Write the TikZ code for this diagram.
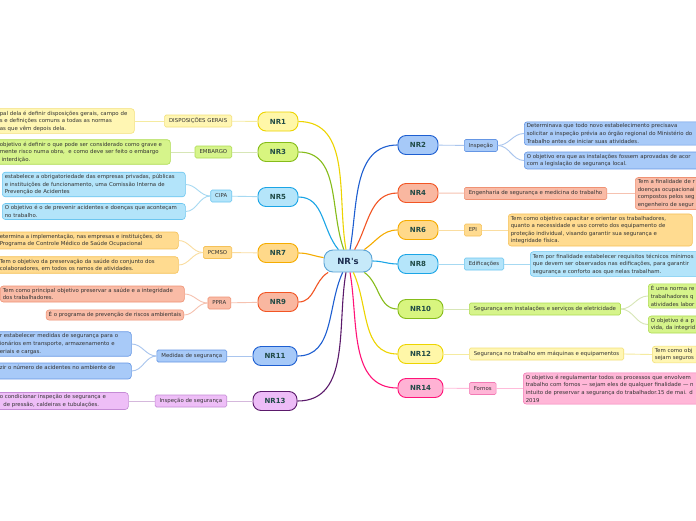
\documentclass[tikz,border=0pt]{standalone}
\usepackage{fontspec}
\setmainfont{DejaVu Sans}

\definecolor{rootD}{HTML}{5BA4D6}\definecolor{rootF}{HTML}{C6E9F9}
\definecolor{nrtext}{HTML}{1F4A46}\definecolor{roottext}{HTML}{1B2C4E}
\definecolor{leaftext}{HTML}{333333}
\definecolor{yelD}{HTML}{EDD400}\definecolor{yelF}{HTML}{FFF7A8}\definecolor{yelL}{HTML}{FFF6B3}\definecolor{yelB}{HTML}{F3E07A}\definecolor{yelS}{HTML}{F5EBA0}
\definecolor{grnD}{HTML}{86BC1A}\definecolor{grnF}{HTML}{D8F57F}\definecolor{grnL}{HTML}{D6F48B}\definecolor{grnB}{HTML}{AEDB52}\definecolor{grnS}{HTML}{D7E6B6}
\definecolor{cyaD}{HTML}{1BA5E6}\definecolor{cyaF}{HTML}{B5E5FA}\definecolor{cyaL}{HTML}{B3E4FA}\definecolor{cyaB}{HTML}{6CC6F0}\definecolor{cyaS}{HTML}{A6D9F2}
\definecolor{oraD}{HTML}{F5AC00}\definecolor{oraF}{HTML}{FFD98A}\definecolor{oraL}{HTML}{FFDB90}\definecolor{oraB}{HTML}{F5C158}\definecolor{oraS}{HTML}{FADDA0}
\definecolor{redD}{HTML}{F25524}\definecolor{redF}{HTML}{F9B7A0}\definecolor{redL}{HTML}{F9BBA6}\definecolor{redB}{HTML}{EF9274}\definecolor{redS}{HTML}{F6C2B0}
\definecolor{bluD}{HTML}{1E5FD1}\definecolor{bluF}{HTML}{A6C9F8}\definecolor{bluL}{HTML}{A8CAF8}\definecolor{bluB}{HTML}{6596E4}\definecolor{bluS}{HTML}{A9C5EE}
\definecolor{purD}{HTML}{5B1A6B}\definecolor{purF}{HTML}{EDBCF7}\definecolor{purL}{HTML}{EEBEF7}\definecolor{purB}{HTML}{C58BD6}\definecolor{purS}{HTML}{D5B8DC}
\definecolor{pnkD}{HTML}{FF1478}\definecolor{pnkF}{HTML}{FFB2D4}\definecolor{pnkL}{HTML}{FFB6D7}\definecolor{pnkB}{HTML}{F27BB5}\definecolor{pnkS}{HTML}{FFBBDA}

\tikzset{
	rootbox/.style={draw=rootD, fill=rootF, rounded corners=9pt, line width=0.9pt, minimum width=48pt, minimum height=22pt, inner sep=1pt, text=roottext, font=\bfseries\fontsize{8.5}{10}\selectfont},
	nrbox/.style={draw, rounded corners=8pt, line width=0.9pt, minimum width=40pt, minimum height=19pt, inner sep=1pt, text=nrtext, font=\bfseries\fontsize{7}{8}\selectfont},
	subbox/.style={draw, rounded corners=1.5pt, line width=0.6pt, inner xsep=4.5pt, inner ysep=1pt, minimum height=12pt, text=leaftext, font=\fontsize{5.4}{6.5}\selectfont},
	leafbox/.style={draw, rounded corners=3pt, line width=0.6pt, inner xsep=2.5pt, inner ysep=2pt, align=left, text=leaftext, font=\fontsize{5.4}{7.6}\selectfont},
	rootline/.style={line width=1.1pt},
	subline/.style={line width=0.9pt}
}

\begin{document}
\begin{tikzpicture}[x=1pt,y=1pt]
	%%%%% START %%%%%
	\useasboundingbox (0,0) rectangle (696,-520);
	\clip (0,0) rectangle (696,-520);
	\fill[white] (0,0) rectangle (696,-520);
	
	\node[rootbox] (root) at (348,-261) {NR\textquotesingle s};
	
	\node[nrbox, draw=yelD, fill=yelF] (nr1) at (278,-121.5) {NR1};
	\node[nrbox, draw=grnD, fill=grnF] (nr3) at (278,-152) {NR3};
	\node[nrbox, draw=cyaD, fill=cyaF] (nr5) at (278,-197) {NR5};
	\node[nrbox, draw=oraD, fill=oraF] (nr7) at (278,-253) {NR7};
	\node[nrbox, draw=redD, fill=redF] (nr9) at (278,-302) {NR9};
	\node[nrbox, draw=bluD, fill=bluF, minimum width=44pt] (nr11) at (275,-356) {NR11};
	\node[nrbox, draw=purD, fill=purF, minimum width=44pt] (nr13) at (275,-401) {NR13};
	
	\node[nrbox, draw=bluD, fill=bluF] (nr2) at (418,-145) {NR2};
	\node[nrbox, draw=redD, fill=redF] (nr4) at (418,-193) {NR4};
	\node[nrbox, draw=oraD, fill=oraF] (nr6) at (418,-230) {NR6};
	\node[nrbox, draw=cyaD, fill=cyaF] (nr8) at (418,-264) {NR8};
	\node[nrbox, draw=grnD, fill=grnF, minimum width=45pt] (nr10) at (420.5,-309) {NR10};
	\node[nrbox, draw=yelD, fill=yelF, minimum width=45pt] (nr12) at (420.5,-354) {NR12};
	\node[nrbox, draw=pnkD, fill=pnkF, minimum width=45pt] (nr14) at (420.5,-388) {NR14};
	
	\draw[rootline, yelD] (root) to[out=100, in=0] (nr1);
	\draw[rootline, grnD] (root) to[out=110, in=0] (nr3);
	\draw[rootline, cyaD] (root) to[out=130, in=0] (nr5);
	\draw[rootline, oraD] (root) to[out=172, in=0] (nr7);
	\draw[rootline, redD] (root) to[out=210, in=0] (nr9);
	\draw[rootline, bluD] (root) to[out=245, in=0] (nr11);
	\draw[rootline, purD] (root) to[out=260, in=0] (nr13);
	\draw[rootline, bluD] (root) to[out=80, in=180] (nr2);
	\draw[rootline, redD] (root) to[out=60, in=180] (nr4);
	\draw[rootline, oraD] (root) to[out=35, in=180] (nr6);
	\draw[rootline, cyaD] (root) to[out=0, in=180] (nr8);
	\draw[rootline, grnD] (root) to[out=-35, in=180] (nr10);
	\draw[rootline, yelD] (root) to[out=-65, in=180] (nr12);
	\draw[rootline, pnkD] (root) to[out=-80, in=180] (nr14);
	
	\node[subbox, draw=yelB, fill=yelL, anchor=east] (dispos) at (232,-121) {DISPOSIÇÕES GERAIS};
	\node[subbox, draw=grnB, fill=grnL, anchor=east] (embargo) at (232,-152) {EMBARGO};
	\node[subbox, draw=cyaB, fill=cyaL, anchor=east] (cipa) at (232,-196) {CIPA};
	\node[subbox, draw=oraB, fill=oraL, anchor=east] (pcmso) at (232,-252.5) {PCMSO};
	\node[subbox, draw=redB, fill=redL, anchor=east] (ppra) at (231,-303) {PPRA};
	\node[subbox, draw=bluB, fill=bluL, anchor=east] (medidas) at (227,-356) {Medidas de segurança};
	\node[subbox, draw=purB, fill=purL, anchor=east] (inspseg) at (227,-401) {Inspeção de segurança};
	
	\node[subbox, draw=bluB, fill=bluL, anchor=west] (insp) at (464,-145.5) {Inspeção};
	\node[subbox, draw=redB, fill=redL, anchor=west] (engseg) at (464,-193.5) {Engenharia de segurança e medicina do trabalho};
	\node[subbox, draw=oraB, fill=oraL, anchor=west] (epi) at (464,-230) {EPI};
	\node[subbox, draw=cyaB, fill=cyaL, anchor=west] (edif) at (464,-264) {Edificações};
	\node[subbox, draw=grnB, fill=grnL, anchor=west] (eletr) at (469,-309) {Segurança em instalações e serviços de eletricidade};
	\node[subbox, draw=yelB, fill=yelL, anchor=west] (maq) at (469,-354) {Segurança no trabalho em máquinas e equipamentos};
	\node[subbox, draw=pnkB, fill=pnkL, anchor=west] (fornos) at (469,-388.5) {Fornos};
	
	\node[leafbox, draw=yelB, fill=yelL, anchor=west, text width=132pt] (nr1a) at (-3,-121) {pal dela é definir disposições gerais, campo de\\s e definições comuns a todas as normas\\as que vêm depois dela.};
	\node[leafbox, draw=grnB, fill=grnL, anchor=west, text width=168pt] (nr3a) at (-3,-152) {objetivo é definir o que pode ser considerado como grave e\\mente risco numa obra,\ \ e como deve ser feito o embargo\\\ interdição.};
	\node[leafbox, draw=cyaB, fill=cyaL, anchor=west, text width=178pt] (nr5a) at (2,-184.5) {estabelece a obrigatoriedade das empresas privadas, públicas\\e instituições de funcionamento, uma Comissão Interna de\\Prevenção de Acidentes};
	\node[leafbox, draw=cyaB, fill=cyaL, anchor=west, text width=178pt] (nr5b) at (2,-211.5) {O objetivo é o de prevenir acidentes e doenças que aconteçam\\no trabalho.};
	\node[leafbox, draw=oraB, fill=oraL, anchor=west, text width=176pt] (nr7a) at (-3,-240.5) {etermina a implementação, nas empresas e instituições, do\\Programa de Controle Médico de Saúde Ocupacional};
	\node[leafbox, draw=oraB, fill=oraL, anchor=west, text width=176pt] (nr7b) at (-3,-265) {Tem o objetivo da preservação da saúde do conjunto dos\\colaboradores, em todos os ramos de atividades.};
	\node[leafbox, draw=redB, fill=redL, anchor=west, text width=179pt] (nr9a) at (0,-294) {Tem como principal objetivo preservar a saúde e a integridade\\dos trabalhadores.};
	\node[leafbox, draw=redB, fill=redL, anchor=east] (nr9b) at (184,-315) {É o programa de prevenção de riscos ambientais};
	\node[leafbox, draw=bluB, fill=bluL, anchor=west, text width=129pt] (nr11a) at (-3,-344) {r estabelecer medidas de segurança para o\\ionários em transporte, armazenamento e\\eriais e cargas.};
	\node[leafbox, draw=bluB, fill=bluL, anchor=west, text width=129pt] (nr11b) at (-3,-371) {zir o número de acidentes no ambiente de\\\mbox{}};
	\node[leafbox, draw=purB, fill=purL, anchor=west, text width=126pt] (nr13a) at (-3,-401) {o condicionar inspeção de segurança e\\\ \ de pressão, caldeiras e tubulações.};
	
	\node[leafbox, draw=bluB, fill=bluL, anchor=west, text width=200pt] (nr2a) at (524,-133.5) {Determinava que todo novo estabelecimento precisava\\solicitar a inspeção prévia ao órgão regional do Ministério do\\Trabalho antes de iniciar suas atividades.};
	\node[leafbox, draw=bluB, fill=bluL, anchor=west, text width=200pt] (nr2b) at (524,-160.5) {O objetivo era que as instalações fossem aprovadas de acor\\com a legislação de segurança local.};
	\node[leafbox, draw=redB, fill=redL, anchor=west, text width=100pt] (nr4a) at (635,-193.5) {Tem a finalidade de r\\doenças ocupacionai\\compostos pelos seg\\engenheiro de segur};
	\node[leafbox, draw=oraB, fill=oraL, anchor=west, text width=179pt] (nr6a) at (508,-230) {Tem como objetivo capacitar e orientar os trabalhadores,\\quanto a necessidade e uso correto dos equipamento de\\proteção individual, visando garantir sua segurança e\\integridade física.};
	\node[leafbox, draw=cyaB, fill=cyaL, anchor=west, text width=200pt] (nr8a) at (530,-264) {Tem por finalidade estabelecer requisitos técnicos mínimos\\que devem ser observados nas edificações, para garantir\\segurança e conforto aos que nelas trabalham.};
	\node[leafbox, draw=grnB, fill=grnL, anchor=west, text width=100pt] (nr10a) at (648,-296) {É uma norma re\\trabalhadores q\\atividades labor};
	\node[leafbox, draw=grnB, fill=grnL, anchor=west, text width=100pt] (nr10b) at (648,-324.5) {O objetivo é a p\\vida, da integrid};
	\node[leafbox, draw=yelB, fill=yelL, anchor=west, text width=100pt] (nr12a) at (652,-354.5) {Tem como obj\\sejam seguros};
	\node[leafbox, draw=pnkB, fill=pnkL, anchor=west, text width=200pt] (nr14a) at (523,-388.5) {O objetivo é regulamentar todos os processos que envolvem\\trabalho com fornos — sejam eles de qualquer finalidade — n\\intuito de preservar a segurança do trabalhador.15 de mai. d\\2019};
	
	\draw[subline, yelS] (nr1) -- (dispos);
	\draw[subline, grnS] (nr3) -- (embargo);
	\draw[subline, cyaS] (nr5) -- (cipa);
	\draw[subline, oraS] (nr7) -- (pcmso);
	\draw[subline, redS] (nr9) -- (ppra);
	\draw[subline, bluS] (nr11) -- (medidas);
	\draw[subline, purS] (nr13) -- (inspseg);
	\draw[subline, bluS] (nr2) -- (insp);
	\draw[subline, redS] (nr4) -- (engseg);
	\draw[subline, oraS] (nr6) -- (epi);
	\draw[subline, cyaS] (nr8) -- (edif);
	\draw[subline, grnS] (nr10) -- (eletr);
	\draw[subline, yelS] (nr12) -- (maq);
	\draw[subline, pnkS] (nr14) -- (fornos);
	
	\draw[subline, yelS] (dispos.west) -- (nr1a.east);
	\draw[subline, grnS] (embargo.west) -- (nr3a.east);
	\draw[subline, cyaS] (cipa.west) to[out=180, in=0] (nr5a.east);
	\draw[subline, cyaS] (cipa.west) to[out=180, in=0] (nr5b.east);
	\draw[subline, oraS] (pcmso.west) to[out=180, in=0] (nr7a.east);
	\draw[subline, oraS] (pcmso.west) to[out=180, in=0] (nr7b.east);
	\draw[subline, redS] (ppra.west) to[out=180, in=0] (nr9a.east);
	\draw[subline, redS] (ppra.west) to[out=180, in=0] (nr9b.east);
	\draw[subline, bluS] (medidas.west) to[out=180, in=0] (nr11a.east);
	\draw[subline, bluS] (medidas.west) to[out=180, in=0] (nr11b.east);
	\draw[subline, purS] (inspseg.west) -- (nr13a.east);
	\draw[subline, bluS] (insp.east) to[out=0, in=180] (nr2a.west);
	\draw[subline, bluS] (insp.east) to[out=0, in=180] (nr2b.west);
	\draw[subline, redS] (engseg.east) -- (nr4a.west);
	\draw[subline, oraS] (epi.east) -- (nr6a.west);
	\draw[subline, cyaS] (edif.east) -- (nr8a.west);
	\draw[subline, grnS] (eletr.east) to[out=0, in=180] (nr10a.west);
	\draw[subline, grnS] (eletr.east) to[out=0, in=180] (nr10b.west);
	\draw[subline, yelS] (maq.east) -- (nr12a.west);
	\draw[subline, pnkS] (fornos.east) -- (nr14a.west);
	
	%%%%% END %%%%%
\end{tikzpicture}
\end{document}
